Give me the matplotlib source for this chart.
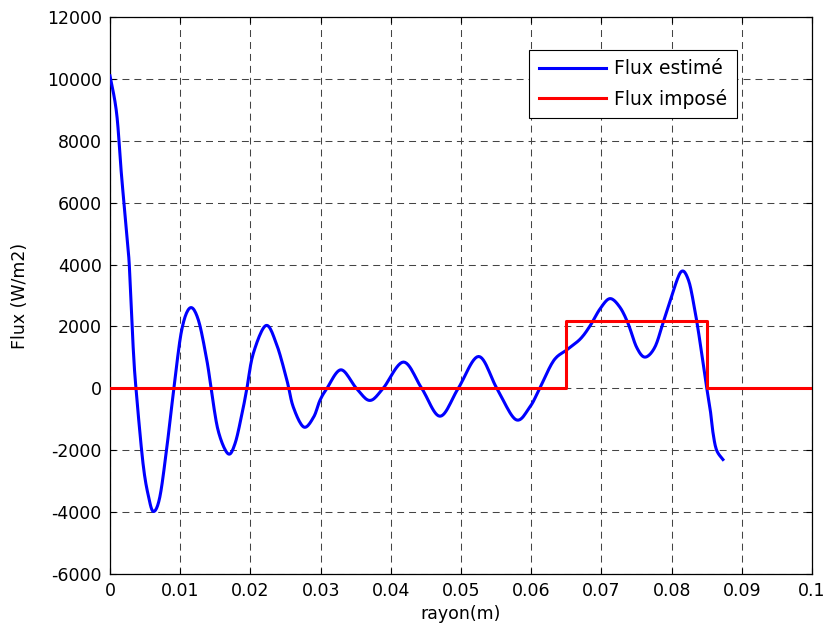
import matplotlib
matplotlib.use("Agg")
import matplotlib.pyplot as plt
import numpy as np

# Estimated flux (blue)
r_est = [0.0, 0.00095, 0.00166, 0.0026, 0.00285, 0.0033, 0.0037, 0.0047, 0.0055, 0.0062,
         0.0071, 0.0081, 0.0091, 0.0102, 0.0114, 0.0126, 0.0138, 0.0144, 0.0154, 0.0168,
         0.0178, 0.0188, 0.0195, 0.0204, 0.0222, 0.0237, 0.0252, 0.0261, 0.0276, 0.0290,
         0.0299, 0.0309, 0.0329, 0.0351, 0.0370, 0.0389, 0.0418, 0.0444, 0.0470, 0.0496,
         0.0525, 0.0551, 0.0578, 0.0598, 0.0612, 0.0632, 0.0651, 0.0670, 0.0684, 0.0698,
         0.0712, 0.0726, 0.0738, 0.0750, 0.0762, 0.0776, 0.0788, 0.0798, 0.0813, 0.0824,
         0.0833, 0.0840, 0.0849, 0.0855, 0.0859, 0.0864, 0.0873]
flux_est = [10100, 8880, 6830, 4460, 3490, 1330, 0, -2420, -3510, -3980,
            -3510, -1900, 0, 1870, 2600, 2200, 900, 0, -1360, -2110,
            -1790, -820, 0, 1120, 2030, 1440, 260, -600, -1250, -930,
            -390, 0, 600, 0, -390, 0, 850, 0, -900, 0,
            1030, 0, -1010, -600, 0, 900, 1250, 1600, 2030, 2570,
            2900, 2630, 2090, 1330, 1010, 1330, 2140, 2840, 3760, 3490,
            2520, 1550, 150, -710, -1460, -2000, -2300]

# Imposed flux (red step)
r_imp = [0.0, 0.065, 0.065, 0.085, 0.085, 0.1]
flux_imp = [0, 0, 2170, 2170, 0, 0]

x_ticks = [0, 0.01, 0.02, 0.03, 0.04, 0.05, 0.06, 0.07, 0.08, 0.09, 0.1]
x_labels = ["0", "0.01", "0.02", "0.03", "0.04", "0.05", "0.06", "0.07", "0.08", "0.09", "0.1"]
y_ticks = [-6000, -4000, -2000, 0, 2000, 4000, 6000, 8000, 10000, 12000]

plt.rcParams['font.family'] = ['DejaVu Sans']
plt.rcParams['lines.scale_dashes'] = False
plt.rcParams['axes.unicode_minus'] = False

fig = plt.figure(figsize=(8.27, 6.31), dpi=100)
ax = fig.add_axes([0.133, 0.0903, 0.849, 0.8827])

xs = np.array(r_est)
ys = np.array(flux_est)

# Catmull-Rom spline through the read points (display smoothing only)
def catmull(x, y, n=12):
    px, py = [], []
    X = np.concatenate([[x[0]], x, [x[-1]]])
    Y = np.concatenate([[y[0]], y, [y[-1]]])
    for i in range(1, len(X) - 2):
        t = np.linspace(0, 1, n, endpoint=False)
        for arr, out in ((X, px), (Y, py)):
            p0, p1, p2, p3 = arr[i-1], arr[i], arr[i+1], arr[i+2]
            out.extend(0.5 * ((2*p1) + (-p0 + p2)*t + (2*p0 - 5*p1 + 4*p2 - p3)*t**2
                              + (-p0 + 3*p1 - 3*p2 + p3)*t**3))
    px.append(x[-1]); py.append(y[-1])
    return np.array(px), np.array(py)

sx, sy = catmull(xs, ys)
ax.plot(sx, sy, color='#0000ff', lw=2.2, label='Flux estimé', zorder=3)
ax.plot(r_imp, flux_imp, color='#ff0000', lw=2.2, label='Flux imposé', zorder=3)

ax.set_xlim(0, 0.1)
ax.set_ylim(-6000, 12000)
ax.set_xticks(x_ticks)
ax.set_xticklabels(x_labels)
ax.set_yticks(y_ticks)
ax.grid(True, color='#444444', linestyle=(0, (5.0, 3.6)), linewidth=0.75)
ax.tick_params(direction='in', top=True, right=True, length=4, width=0.8, labelsize=12.5)
ax.tick_params(axis='y', pad=6)
ax.tick_params(axis='x', pad=6)
for s in ax.spines.values():
    s.set_linewidth(0.9)
    s.set_color('black')

ax.set_xlabel('rayon(m)', fontsize=12.5, labelpad=3)
ax.set_ylabel('Flux (W/m2)', fontsize=12.5, labelpad=13)

leg = ax.legend(loc='upper right', bbox_to_anchor=(0.893, 0.941), borderaxespad=0,
                fontsize=13.5, handlelength=3.6, frameon=True, fancybox=False, framealpha=1,
                edgecolor='black', borderpad=0.5, labelspacing=0.55, handletextpad=0.45)
leg.get_frame().set_linewidth(0.8)

fig.savefig('out.png', dpi=100)
